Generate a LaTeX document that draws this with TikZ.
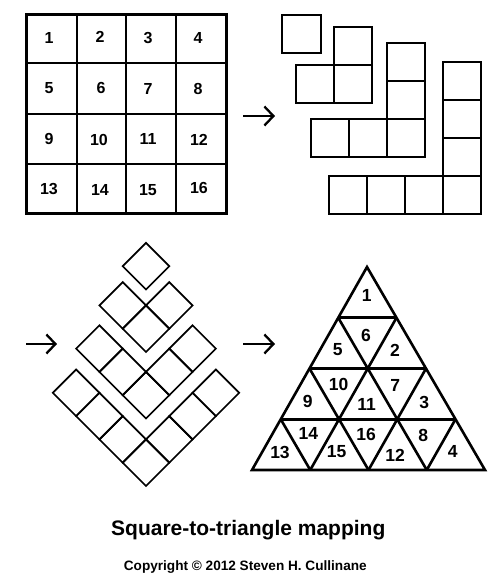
\documentclass[tikz,border=0pt]{standalone}
\usepackage{fontspec}
\setmainfont{Liberation Sans}
\usetikzlibrary{arrows.meta,calc}
\begin{document}
\begin{tikzpicture}[x=1pt,y=-1pt,line join=miter,
  gridnum/.style={font=\bfseries\fontsize{16}{18}\selectfont,inner sep=0pt},
  trinum/.style={font=\bfseries\fontsize{17.5}{19}\selectfont,inner sep=0pt},
  piece/.style={line width=2pt},
  dia/.style={line width=1.7pt},
  tri/.style={line width=2.6pt,line join=miter},
  maparrow/.style={line width=2.3pt,-{Straight Barb[length=9pt,width=19pt,line width=2.3pt]}}]
\useasboundingbox (0,0) rectangle (500,587);
\fill[white] (0,0) rectangle (500,587);
% ---- 4x4 grid ----
\draw[line width=2pt] (77,14) -- (77,213) (126,14) -- (126,213) (176,14) -- (176,213)
  (26,63) -- (226,63) (26,164) -- (226,164);
\draw[line width=2.6pt] (26,114) -- (226,114);
\draw[line width=3pt] (26,14) rectangle (226,213);
\foreach \n/\x/\y in {1/49/38,2/100/37,3/148/38,4/198/38,
  5/49/88,6/101/88,7/148/89,8/198/89,
  9/49/139,10/99/140,11/148/139,12/199/140,
  13/49/189,14/100/190,15/148/190,16/199/188}
  \node[gridnum] (g\n) at (\x,\y) {\n};
% ---- arrows ----
\coordinate (a1s) at (243,116); \coordinate (a1e) at (275,116);
\coordinate (a2s) at (26,344);  \coordinate (a2e) at (57,344);
\coordinate (a3s) at (243,344); \coordinate (a3e) at (275,344);
\draw[maparrow] (a1s) -- (a1e);
\draw[maparrow] (a2s) -- (a2e);
\draw[maparrow] (a3s) -- (a3e);
% ---- L pieces ----
\draw[piece] (282,15) rectangle (321,53);
\foreach \x/\y in {334/27,296/65,334/65} \draw[piece] (\x,\y) rectangle ++(38,38);
\foreach \x/\y in {387/43,387/81,311/119,349/119,387/119} \draw[piece] (\x,\y) rectangle ++(38,38);
\foreach \x/\y in {443/62,443/100,443/138,329/176,367/176,405/176,443/176} \draw[piece] (\x,\y) rectangle ++(38,38);
% ---- diamonds ----
\def\hh{23.3}
\foreach \k/\yb in {1/289.5,2/352,3/418.5,4/486}{
  \pgfmathtruncatemacro{\m}{\k-1}
  \draw[dia] (146,\yb) -- ++(-\hh,-\hh) -- ++(\hh,-\hh) -- ++(\hh,\hh) -- cycle;
  \ifnum\m>0
  \foreach \i in {1,...,\m}{
    \draw[dia] ($(146,\yb)+(-\i*\hh,-\i*\hh)$) -- ++(-\hh,-\hh) -- ++(\hh,-\hh) -- ++(\hh,\hh) -- cycle;
    \draw[dia] ($(146,\yb)+(\i*\hh,-\i*\hh)$) -- ++(-\hh,-\hh) -- ++(\hh,-\hh) -- ++(\hh,\hh) -- cycle;
  }
  \fi
}
% ---- triangle ----
\coordinate (TA) at (367,267);
\coordinate (TL) at (252,470);
\coordinate (TR) at (485,470);
\foreach \k in {1,2,3}{
  \draw[tri] ($(TL)!\k/4!(TR)$) -- ($(TA)!\k/4!(TR)$);
  \draw[tri] ($(TL)!\k/4!(TR)$) -- ($(TA)!{1-\k/4}!(TL)$);
  \draw[tri] ($(TA)!\k/4!(TL)$) -- ($(TA)!\k/4!(TR)$);
}
\draw[tri] (TA) -- (TL) -- (TR) -- cycle;
\foreach \n/\x/\y in {1/366.7/295,6/366/335,5/337.7/350,2/395/350,
  10/338.7/384,7/395.3/385,9/307.7/401,11/366.7/404,3/424.3/402,
  14/308.3/433,16/366/434,8/423.3/435,13/280/452,15/336.7/452,12/395/455,4/452.7/451}
  \node[trinum] (t\n) at (\x,\y) {\n};
% ---- captions ----
\node[font=\bfseries\fontsize{21}{24}\selectfont,inner sep=0pt,anchor=base] (title) at (248.3,535.3) {Square-to-triangle mapping};
\node[font=\bfseries\fontsize{13.6}{16}\selectfont,inner sep=0pt,anchor=base] (copy) at (245.3,570) {Copyright © 2012 Steven H. Cullinane};
\end{tikzpicture}
\end{document}
